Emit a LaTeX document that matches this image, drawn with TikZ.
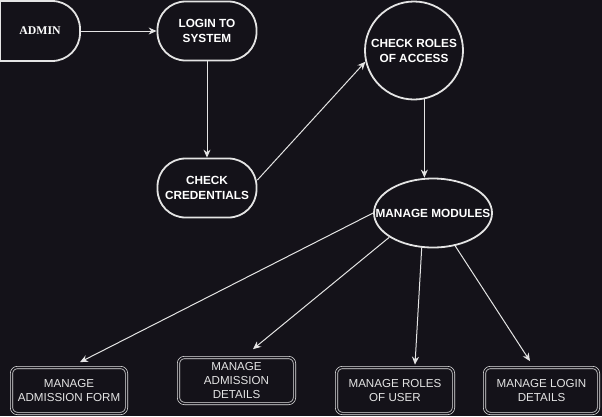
\documentclass[tikz,border=0pt]{standalone}
\usepackage{fontspec}
\setmainfont{Liberation Sans}
\newfontfamily\adminfont{Liberation Serif}
\usetikzlibrary{shapes.geometric,arrows.meta}
\definecolor{bg}{RGB}{20,18,25}
\definecolor{ln}{RGB}{228,228,228}
\begin{document}
\begin{tikzpicture}[x=1pt,y=-1pt,
  txt/.style={font=\fontsize{11.8}{15}\selectfont\bfseries, text=white, align=center},
  proc/.style={draw=ln, line width=1.8pt, txt, inner sep=0pt},
  mod/.style={draw=ln, line width=0.7pt, double=bg, double distance=1.6pt, rounded corners=6pt,
    font=\fontsize{11.6}{14}\selectfont, text=ln, align=center, inner sep=0pt,
    minimum height=46pt},
  arr/.style={draw=ln, line width=1pt, -{Stealth[length=8pt,width=7pt]}}]
\fill[bg] (0,0) rectangle (602,416);
\useasboundingbox (0,0) rectangle (602,416);

% ADMIN terminator
\node[txt, font=\adminfont\bfseries\fontsize{11.8}{15}\selectfont, minimum width=80pt, minimum height=60pt, inner sep=0pt] (admin) at (40,31) {ADMIN};
\draw[ln, line width=1.8pt, rounded corners=28pt] (0,1) -- (80,1) -- (80,61) -- (0,61);
\draw[ln, line width=1.8pt] (0,1) -- (0,61);

\node[proc, rounded corners=28pt, minimum width=99pt, minimum height=59pt] (login) at (207,31) {LOGIN TO\\SYSTEM};
\node[proc, rounded corners=28pt, minimum width=99pt, minimum height=59pt] (cred) at (207,188) {CHECK\\CREDENTIALS};
\node[proc, circle, minimum size=98pt] (roles) at (414,50.5) {CHECK ROLES\\OF ACCESS};
\node[proc, ellipse, minimum width=118pt, minimum height=69pt, label={[txt]center:MANAGE MODULES}] (mods) at (433,213) {};

\node[mod, minimum width=115pt] (box1) at (69,390.5) {MANAGE\\ADMISSION FORM};
\node[mod, minimum width=116pt] (box2) at (236.5,380.5) {MANAGE\\ADMISSION\\DETAILS};
\node[mod, minimum width=117pt] (box3) at (395,390.5) {MANAGE ROLES\\OF USER};
\node[mod, minimum width=114pt] (box4) at (541.5,390.5) {MANAGE LOGIN\\DETAILS};

\draw[arr] (admin.east) -- (login.west);
\draw[arr] (login.south) -- (cred.north);
\draw[arr] ([yshift=8pt]cred.east) -- (roles.193);
\draw[arr] (roles.282) -- (roles.282 |- mods.north);

\draw[arr] (mods.west) -- ([xshift=11pt,yshift=5pt]box1.north);
\draw[arr] (mods.209) -- ([xshift=16.5pt,yshift=8pt]box2.north);
\draw[arr] (mods.252) -- ([xshift=20pt,yshift=2.5pt]box3.north);
\draw[arr] (mods.304) -- ([xshift=-11.5pt,yshift=6pt]box4.north);
\end{tikzpicture}
\end{document}
